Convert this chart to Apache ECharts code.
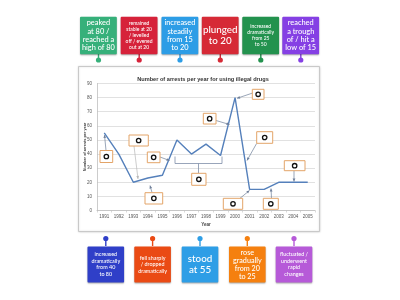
<!DOCTYPE html>
<html><head><meta charset="utf-8">
<script src="https://cdn.jsdelivr.net/npm/echarts@6/dist/echarts.min.js"></script>
<style>html,body{margin:0;padding:0;background:#fff}#c{width:400px;height:300px}</style>
</head><body><div id="c"></div>
<script>
var years = ['1991','1992','1993','1994','1995','1996','1997','1998','1999','2000','2001','2002','2003','2004','2005'];
var arrests = [55, 40, 20, 23, 25, 50, 40, 47, 39, 80, 15, 15, 20, 20, 20];
var yTicks = [0, 10, 20, 30, 40, 50, 60, 70, 80, 90];
var titleText = 'Number of arrests per year for using illegal drugs';
var yName = 'Number of arrests per year';
var xName = 'Year';
var topLabels = [
  'peaked\nat 80 /\nreached a\nhigh of 80',
  'remained\nstable at 20\n/ levelled\noff / evened\nout at 20',
  'increased\nsteadily\nfrom 15\nto 20',
  'plunged\nto 20',
  'increased\ndramatically\nfrom 25\nto 50',
  'reached\na trough\nof / hit a\nlow of 15'
];
var bottomLabels = [
  'increased\ndramatically\nfrom 40\nto 80',
  'fell sharply\n/ dropped\ndramatically',
  'stood\nat 55',
  'rose\ngradually\nfrom 20\nto 25',
  'fluctuated /\nunderwent\nrapid\nchanges'
];

var topColors = ['#36b07a','#d6223a','#2d9de6','#d62a36','#23924e','#8540e4'];
var topFont = [[7.4,8.3],[5,6],[7.4,8.3],[9.8,11],[5,6],[7.4,8.3]];
var botColors = ['#2f3fc8','#ea4a14','#2e9ee6','#f5800f','#b65ad8'];
var botFont = [[5.4,6.5],[5.4,6.5],[9.8,11],[7.2,8],[5.4,6.5]];

var chart = echarts.init(document.getElementById('c'), null, {renderer:'canvas'});

var g = [];
g.push({type:'rect', z:-5, shape:{x:78.5,y:66.5,width:241,height:165}, style:{fill:'#fff', stroke:'#c9c9c9', lineWidth:1, shadowBlur:2, shadowColor:'rgba(0,0,0,0.15)'}});

var FONT = 'Lato, "Open Sans", sans-serif';
function card(x, y, w, h, color, text, fs, lh){
  g.push({type:'rect', shape:{x:x,y:y,width:w,height:h,r:1}, style:{fill:color, shadowBlur:1.5, shadowOffsetY:1, shadowColor:'rgba(0,0,0,0.35)'}});
  g.push({type:'text', x:x+w/2, y:y+h/2, style:{text:text, fill:'#fff', font:'500 '+fs+'px '+FONT, lineHeight:lh, align:'center', verticalAlign:'middle'}});
}
function pin(x, y1, y2, color){
  g.push({type:'line', shape:{x1:x,y1:y1,x2:x,y2:y2}, style:{stroke:color, lineWidth:1.4}});
  g.push({type:'circle', shape:{cx:x, cy:y2, r:2.6}, style:{fill:color}});
}
var topX = [80, 120.7, 161.5, 201.8, 242.3, 282.3];
topLabels.forEach(function(t,i){
  pin(topX[i]+18.5, 54, 60, topColors[i]);
  card(topX[i], 16.7, 36.8, 37.6, topColors[i], t, topFont[i][0], topFont[i][1]);
});
var botX = [87.5, 134.3, 181.7, 229, 275.7];
bottomLabels.forEach(function(t,i){
  pin(botX[i]+18.3, 246, 238.5, botColors[i]);
  card(botX[i], 246.5, 36.6, 36, botColors[i], t, botFont[i][0], botFont[i][1]);
});

function box(x, y, w, h){
  g.push({type:'rect', z:5, shape:{x:x,y:y,width:w,height:h}, style:{fill:'#fff', stroke:'#e3a468', lineWidth:1}});
  g.push({type:'circle', z:6, shape:{cx:x+w/2, cy:y+h/2, r:2.2}, style:{fill:'none', stroke:'#111', lineWidth:1.3}});
}
function arrow(x1,y1,x2,y2,color){
  color = color || '#6f7f99';
  g.push({type:'line', z:4, shape:{x1:x1,y1:y1,x2:x2,y2:y2}, style:{stroke:color, lineWidth:0.7}});
  var a = Math.atan2(y2-y1, x2-x1), L = 3, W = 1.4;
  var bx = x2 - L*Math.cos(a), by = y2 - L*Math.sin(a);
  g.push({type:'polygon', z:4, shape:{points:[[x2,y2],[bx + W*Math.sin(a), by - W*Math.cos(a)],[bx - W*Math.sin(a), by + W*Math.cos(a)]]}, style:{fill:color}});
}
arrow(106,150.5,104.5,135);
arrow(134,146,138,179,'#b8b8b8');
arrow(160,157,169.5,160.5);
arrow(152,192.5,150,185.5);
arrow(240,198.3,249.5,190.5);
arrow(271.5,198.3,271,188.5);
arrow(256.7,143.3,247,160.5);
arrow(294,170.7,294,181.5);
arrow(216,120.5,229.5,124.5);
arrow(253.3,92.8,237,98.3);
g.push({type:'polyline', z:4, shape:{points:[[175,156.5],[175,163.5],[222,163.5],[222,156.5]]}, style:{stroke:'#7f8ea8', lineWidth:0.8, fill:'none'}});
g.push({type:'line', z:4, shape:{x1:198.5,y1:163.5,x2:198.5,y2:173.3}, style:{stroke:'#7f8ea8', lineWidth:0.8}});

box(100,150.5,12.7,12);
box(129,135,19.3,11);
box(147.3,152,12.7,10.7);
box(145,192.7,17.7,11.3);
box(191.7,173.3,14.3,12);
box(223.3,198.3,19.4,11);
box(263.3,198.3,15,11);
box(256.7,131.7,16,11.6);
box(284.3,160.7,20.7,10);
box(203.3,113.3,12.7,10.7);
box(252.3,89.3,11.7,10);

chart.setOption({
  animation:false,
  backgroundColor:'#fff',
  textStyle:{fontFamily:'"Liberation Sans", sans-serif'},
  title:{text:titleText, left:198, top:71, textAlign:'center', textStyle:{fontSize:5.6, fontWeight:'bold', color:'#333'}},
  grid:{left:97, right:85, top:83.5, bottom:89.5},
  xAxis:{type:'category', data:years, boundaryGap:true,
    name:xName, nameLocation:'middle', nameGap:12, nameMoveOverlap:false, nameTextStyle:{fontSize:4.5, fontWeight:'bold', color:'#444'},
    axisLine:{lineStyle:{color:'#bfbfbf', width:0.8}},
    axisTick:{show:true, length:2, lineStyle:{color:'#bfbfbf', width:0.6}},
    axisLabel:{fontSize:4.5, color:'#555', margin:4, interval:0}},
  yAxis:{type:'value', min:yTicks[0], max:yTicks[yTicks.length-1], interval:yTicks[1]-yTicks[0],
    name:yName, nameLocation:'middle', nameGap:10, nameRotate:90, nameMoveOverlap:false, nameTextStyle:{fontSize:3.8, fontWeight:'bold', color:'#444'},
    axisLine:{show:true, lineStyle:{color:'#bfbfbf', width:0.8}},
    axisTick:{show:false},
    splitLine:{lineStyle:{color:'#d9d9d9', width:0.8}},
    axisLabel:{fontSize:4.5, color:'#555', margin:5}},
  series:[{type:'line', data:arrests, showSymbol:false, symbol:'none',
    lineStyle:{color:'#5580bb', width:1.4}, z:3}],
  graphic:{elements:g}
});
</script></body></html>
